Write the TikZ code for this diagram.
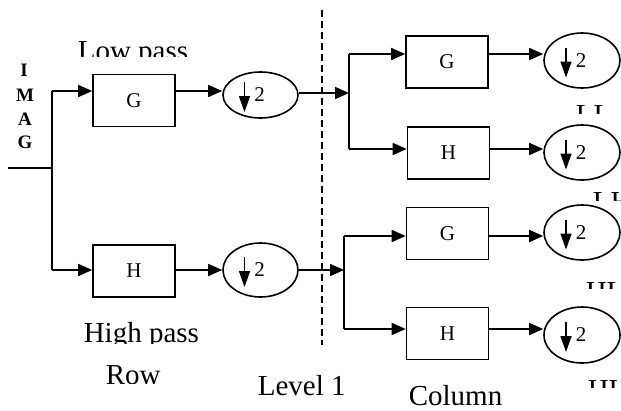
\documentclass[tikz,border=0pt]{standalone}
\usepackage{fontspec}
\setmainfont{Liberation Serif}
\usetikzlibrary{arrows.meta,shapes.geometric}
\begin{document}
\begin{tikzpicture}[x=1pt,y=-1pt,
  line width=1.6pt,
  arr/.style={-{Triangle[length=14pt,width=12pt]}},
  fbox/.style={draw, rectangle, minimum width=82pt, minimum height=52pt, inner sep=0pt,
    font=\fontsize{21}{25}\selectfont},
  dsamp/.style={draw, ellipse, inner sep=0pt, font=\fontsize{21}{25}\selectfont,
    path picture={\draw[line width=1.5pt,-{Triangle[length=16pt,width=11pt]}]
      ([xshift=-16pt,yshift=13pt]path picture bounding box.center) -- ++(0,30);}},
  lbl/.style={anchor=base west, inner sep=0pt, font=\fontsize{29}{34}\selectfont},
  imag/.style={anchor=center, inner sep=0pt, font=\bfseries\fontsize{19}{21}\selectfont},
  dashln/.style={dash pattern=on 7pt off 4pt, line width=1.5pt},
]
\useasboundingbox (0,0) rectangle (621,410);

% IMAG letters
\node[imag] (i1) at (24,70) {I};
\node[imag] (i2) at (25,95) {M};
\node[imag] (i3) at (25,119) {A};
\node[imag] (i4) at (25,142) {G};

% filters, level 1
\node[fbox] (g1) at (134,100.5) {G};
\node[fbox] (h1) at (134,271) {H};
\node[dsamp, minimum width=75pt, minimum height=46pt] (e1) at (260.5,95) {\hspace{-2pt}2};
\node[dsamp, minimum width=75pt, minimum height=54pt] (e2) at (260.5,270) {\hspace{-2pt}2};

% filters, columns
\node[fbox] (g2) at (447,62) {G};
\node[fbox] (h2) at (448.5,153) {H};
\node[fbox] (g3) at (447.5,233.5) {G};
\node[fbox] (h3) at (447.5,333.5) {H};
\node[dsamp, minimum width=76pt, minimum height=55pt] (e3) at (582,60.5) {\hspace{-2pt}2};
\node[dsamp, minimum width=76pt, minimum height=55pt] (e4) at (582,152.5) {\hspace{-2pt}2};
\node[dsamp, minimum width=76pt, minimum height=55pt] (e5) at (582,232.5) {\hspace{-2pt}2};
\node[dsamp, minimum width=76pt, minimum height=56pt] (e6) at (582,335) {\hspace{-2pt}2};

% junctions
\coordinate (in0) at (8,168);
\coordinate (j0) at (52,168);
\coordinate (j0t) at (52,91);
\coordinate (j0b) at (52,270);
\coordinate (j1) at (349,93);
\coordinate (j1t) at (349,54);
\coordinate (j1b) at (349,149);
\coordinate (j2) at (344,270);
\coordinate (j2t) at (344,236);
\coordinate (j2b) at (344,329);

% connectors level 1
\draw (in0) -- (j0);
\draw (j0t) -- (j0b);
\draw[arr] (j0t) -- (g1.west |- j0t);
\draw[arr] (j0b) -- (h1.west |- j0b);
\draw[arr] (g1.east |- j0t) -- (e1.west |- j0t);
\draw[arr] (h1.east |- j0b) -- (e2.west |- j0b);

% connectors upper column bank
\draw[arr] (e1.east |- j1) -- (j1);
\draw (j1t) -- (j1b);
\draw[arr] (j1t) -- (g2.west |- j1t);
\draw[arr] (j1b) -- (h2.west |- j1b);
\draw[arr] (g2.east |- j1t) -- (e3.west |- j1t);
\draw[arr] (h2.east |- j1b) -- (e4.west |- j1b);
\draw ([yshift=5pt]e3.east) -- ++(8,0);

% connectors lower column bank
\draw[arr] (e2.east |- j2) -- (j2);
\draw (j2t) -- (j2b);
\draw[arr] (j2t) -- (g3.west |- j2t);
\draw[arr] (j2b) -- (h3.west |- j2b);
\draw[arr] (g3.east |- j2t) -- (e5.west |- j2t);
\draw[arr] (h3.east |- j2b) -- (e6.west |- j2b);

% level divider
\coordinate (d1) at (322,10);
\coordinate (d2) at (322,345);
\draw[dashln] (d1) -- (d2);

% labels (some cut off as in the reference)
\begin{scope}
  \clip (60,30) rectangle (210,56);
  \node[lbl] (lowp) at (77,60) {Low pass};
\end{scope}
\begin{scope}
  \clip (70,300) rectangle (230,343);
  \node[lbl] (highp) at (83,342) {High pass};
\end{scope}
\begin{scope}
  \clip (90,350) rectangle (180,383);
  \node[lbl] (row) at (105,384) {Row};
\end{scope}
\node[lbl] (lev) at (257,395) {Level 1};
\node[lbl] (col) at (408,405) {Column};
\begin{scope}
  \clip (560,95) rectangle (621,113);
  \node[lbl] (ll) at (575,124) {LL};
\end{scope}
\begin{scope}
  \clip (580,185) rectangle (621,200);
  \node[lbl] (lh) at (592,211) {LH};
\end{scope}
\begin{scope}
  \clip (570,270) rectangle (621,288);
  \node[lbl] (hl) at (585,301) {HL};
\end{scope}
\begin{scope}
  \clip (570,370) rectangle (621,387);
  \node[lbl] (hh) at (587,399) {HH};
\end{scope}
\end{tikzpicture}
\end{document}
